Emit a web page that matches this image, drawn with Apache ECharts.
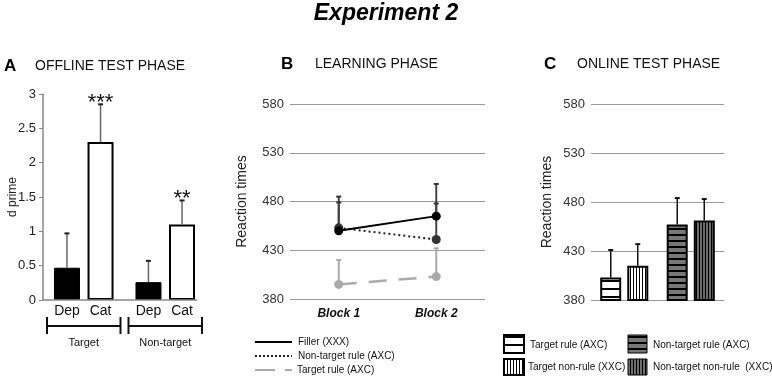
<!DOCTYPE html>
<html>
<head>
<meta charset="utf-8">
<style>
  html, body { margin: 0; padding: 0; background: #fff; }
  #main { width: 772px; height: 377px; }
</style>
<script src="https://cdn.jsdelivr.net/npm/echarts@6/dist/echarts.min.js"></script>
</head>
<body>
<div id="main"></div>
<script>
// 数据 A: offline test phase (d prime)
var offlineGroups = ['Target', 'Non-target'];
var depValues = [0.47, 0.26];
var depErrTop = [0.97, 0.57];
var catValues = [2.3, 1.1];
var catErrTop = [2.85, 1.45];
var catStars = ['***', '**'];

// 数据 B: learning phase (reaction times)
var blocks = ['Block 1', 'Block 2'];
var fillerRT = [450, 465];
var fillerErrTop = [485, 498];
var nonTargetRuleRT = [453, 441];
var nonTargetRuleErrTop = [479, 478];
var targetRuleRT = [395, 403];
var targetRuleErrTop = [420, 432];
var rtTicks = [380, 430, 480, 530, 580];

// 数据 C: online test phase
var onlineGroups = ['Target', 'Non-target'];
var ruleRT = [403, 457];
var ruleErrTop = [431, 484];
var nonRuleRT = [415, 461];
var nonRuleErrTop = [437, 483];

var FONT = '"Liberation Sans", Arial, sans-serif';

// 条纹填充
function stripe (bg, horiz, step, lw) {
  var c = document.createElement('canvas');
  c.width = horiz ? 4 : step;
  c.height = horiz ? step : 4;
  var ctx = c.getContext('2d');
  ctx.fillStyle = bg;
  ctx.fillRect(0, 0, c.width, c.height);
  ctx.fillStyle = '#000';
  if (horiz) ctx.fillRect(0, 0, c.width, lw);
  else ctx.fillRect(0, 0, lw, c.height);
  return { image: c, repeat: 'repeat' };
}
var patTargetRule = stripe('#fff', true, 8, 2);
var patTargetNonRule = stripe('#fff', false, 3, 1);
var patNonTargetRule = stripe('#777', true, 6, 2);
var patNonTargetNonRule = stripe('#6e6e6e', false, 3, 1);

// 误差线 renderItem
function errBar (offset, color, capColor, lw, capW, labels) {
  return function (params, api) {
    var c = api.value(0);
    var base = api.coord([c, api.value(1)]);
    var top = api.coord([c, api.value(2)]);
    var x = base[0] + offset;
    var children = [
      { type: 'line', shape: { x1: x, y1: base[1], x2: x, y2: top[1] }, style: { stroke: color, lineWidth: lw } },
      { type: 'line', shape: { x1: x - capW / 2, y1: top[1], x2: x + capW / 2, y2: top[1] }, style: { stroke: capColor, lineWidth: 2 } }
    ];
    if (labels && labels[params.dataIndex]) {
      children.push({
        type: 'text',
        style: { text: labels[params.dataIndex], x: x, y: top[1] + 10, align: 'center', verticalAlign: 'bottom', font: '22px ' + FONT, fill: '#111' }
      });
    }
    return { type: 'group', children: children };
  };
}

function zip3 (a, b) {
  return a.map(function (v, i) { return [i, v, b[i]]; });
}

const myChart = echarts.init(document.getElementById('main'));

const option = {
  animation: false,
  textStyle: { fontFamily: FONT },
  grid: [
    { left: 43, top: 94, width: 163, height: 206 },
    { left: 290, top: 104, width: 195, height: 195 },
    { left: 591, top: 104, width: 133, height: 196 }
  ],
  xAxis: [
    {
      gridIndex: 0, type: 'category', data: offlineGroups,
      axisLine: { show: false }, axisTick: { show: false },
      axisLabel: { margin: 37, fontSize: 11, color: '#111', fontFamily: FONT }
    },
    {
      gridIndex: 1, type: 'category', data: blocks,
      axisLine: { show: false }, axisTick: { show: false },
      axisLabel: { margin: 9, fontSize: 12, fontWeight: 'bold', fontStyle: 'italic', color: '#111', fontFamily: FONT }
    },
    {
      gridIndex: 2, type: 'category', data: onlineGroups,
      axisLine: { show: false }, axisTick: { show: false }, axisLabel: { show: false }
    }
  ],
  yAxis: [
    {
      gridIndex: 0, type: 'value', min: 0, max: 3, interval: 0.5,
      name: 'd prime', nameLocation: 'middle', nameGap: 24, nameMoveOverlap: false,
      nameTextStyle: { fontSize: 12, color: '#222', fontFamily: FONT },
      axisLine: { show: true, lineStyle: { color: '#888', width: 1.5 } },
      axisTick: { show: true, length: 4, lineStyle: { color: '#888' } },
      axisLabel: { fontSize: 13, color: '#222', margin: 7, fontFamily: FONT },
      splitLine: { show: false }
    },
    {
      gridIndex: 1, type: 'value', min: rtTicks[0], max: rtTicks[rtTicks.length - 1], interval: 50,
      name: 'Reaction times', nameLocation: 'middle', nameGap: 41,
      nameTextStyle: { fontSize: 14, color: '#222', fontFamily: FONT },
      axisLine: { show: false }, axisTick: { show: false },
      axisLabel: { fontSize: 13, color: '#333', margin: 6, fontFamily: FONT },
      splitLine: { lineStyle: { color: '#999', width: 1.2 } }
    },
    {
      gridIndex: 2, type: 'value', min: rtTicks[0], max: rtTicks[rtTicks.length - 1], interval: 50,
      name: 'Reaction times', nameLocation: 'middle', nameGap: 37,
      nameTextStyle: { fontSize: 14, color: '#222', fontFamily: FONT },
      axisLine: { show: false }, axisTick: { show: false },
      axisLabel: { fontSize: 13, color: '#333', margin: 6, fontFamily: FONT },
      splitLine: { lineStyle: { color: '#999', width: 1.2 } }
    }
  ],
  series: [
    // A
    {
      name: 'Dep', type: 'bar', xAxisIndex: 0, yAxisIndex: 0,
      barWidth: 26, barGap: '29%', data: depValues,
      itemStyle: { color: '#000', borderColor: '#000', borderWidth: 1 },
      label: { show: true, position: 'bottom', distance: 4, formatter: '{a}', fontSize: 14, color: '#111', fontFamily: FONT }
    },
    {
      name: 'Cat', type: 'bar', xAxisIndex: 0, yAxisIndex: 0,
      barWidth: 26, barGap: '29%', data: catValues,
      itemStyle: { color: '#fff', borderColor: '#000', borderWidth: 2 },
      label: { show: true, position: 'bottom', distance: 4, formatter: '{a}', fontSize: 14, color: '#111', fontFamily: FONT }
    },
    {
      type: 'custom', xAxisIndex: 0, yAxisIndex: 0, z: 3,
      renderItem: errBar(-16.8, '#666', '#222', 1.5, 5),
      data: zip3(depValues, depErrTop)
    },
    {
      type: 'custom', xAxisIndex: 0, yAxisIndex: 0, z: 3,
      renderItem: errBar(16.8, '#666', '#222', 1.5, 5, catStars),
      data: zip3(catValues, catErrTop)
    },
    {
      // 基线和括号
      type: 'custom', xAxisIndex: 0, yAxisIndex: 0, z: 3,
      renderItem: function (params, api) {
        var p = api.coord([api.value(0), 0]);
        var w = api.size([1, 0])[0];
        var l = p[0] - w / 2 + 4, r = p[0] + w / 2 - 4, y = p[1] + 26;
        var kids = [
          { type: 'line', shape: { x1: l, y1: y, x2: r, y2: y }, style: { stroke: '#111', lineWidth: 2 } },
          { type: 'line', shape: { x1: l, y1: y - 9, x2: l, y2: y + 8 }, style: { stroke: '#111', lineWidth: 2 } },
          { type: 'line', shape: { x1: r, y1: y - 9, x2: r, y2: y + 8 }, style: { stroke: '#111', lineWidth: 2 } }
        ];
        if (params.dataIndex === 0) {
          kids.push({ type: 'line', shape: { x1: p[0] - w / 2, y1: p[1], x2: p[0] + w * 1.5 - 9, y2: p[1] }, style: { stroke: '#888', lineWidth: 1.5 } });
        }
        return { type: 'group', children: kids };
      },
      data: [[0], [1]]
    },
    // B
    {
      name: 'Filler (XXX)', type: 'line', xAxisIndex: 1, yAxisIndex: 1, z: 5,
      data: fillerRT, symbol: 'circle', symbolSize: 9,
      itemStyle: { color: '#000' }, lineStyle: { color: '#000', width: 2 }
    },
    {
      name: 'Non-target rule (AXC)', type: 'line', xAxisIndex: 1, yAxisIndex: 1, z: 4,
      data: nonTargetRuleRT, symbol: 'circle', symbolSize: 9,
      itemStyle: { color: '#333' }, lineStyle: { color: '#222', width: 2, type: [2, 3] }
    },
    {
      name: 'Target rule (AXC)', type: 'line', xAxisIndex: 1, yAxisIndex: 1, z: 4,
      data: targetRuleRT, symbol: 'circle', symbolSize: 9,
      itemStyle: { color: '#aaa' }, lineStyle: { color: '#aaa', width: 2.5, type: [18, 12] }
    },
    {
      type: 'custom', xAxisIndex: 1, yAxisIndex: 1, z: 3,
      renderItem: errBar(0, '#444', '#333', 2, 5),
      data: zip3(fillerRT, fillerErrTop)
    },
    {
      type: 'custom', xAxisIndex: 1, yAxisIndex: 1, z: 3,
      renderItem: errBar(0, '#444', '#333', 2, 5),
      data: zip3(nonTargetRuleRT, nonTargetRuleErrTop)
    },
    {
      type: 'custom', xAxisIndex: 1, yAxisIndex: 1, z: 2,
      renderItem: errBar(0, '#aaa', '#aaa', 2, 5),
      data: zip3(targetRuleRT, targetRuleErrTop)
    },
    // C
    {
      name: 'Rule (AXC)', type: 'bar', xAxisIndex: 2, yAxisIndex: 2,
      barWidth: 21, barGap: '29%',
      data: ruleRT.map(function (v, i) {
        return { value: v, itemStyle: { color: i === 0 ? patTargetRule : patNonTargetRule } };
      }),
      itemStyle: { borderColor: '#000', borderWidth: 2 }
    },
    {
      name: 'Non-rule (XXC)', type: 'bar', xAxisIndex: 2, yAxisIndex: 2,
      barWidth: 21, barGap: '29%',
      data: nonRuleRT.map(function (v, i) {
        return { value: v, itemStyle: { color: i === 0 ? patTargetNonRule : patNonTargetNonRule } };
      }),
      itemStyle: { borderColor: '#000', borderWidth: 2 }
    },
    {
      type: 'custom', xAxisIndex: 2, yAxisIndex: 2, z: 1,
      renderItem: errBar(-13.5, '#111', '#111', 1.5, 5),
      data: zip3(ruleRT, ruleErrTop)
    },
    {
      type: 'custom', xAxisIndex: 2, yAxisIndex: 2, z: 1,
      renderItem: errBar(13.5, '#111', '#111', 1.5, 5),
      data: zip3(nonRuleRT, nonRuleErrTop)
    }
  ],
  graphic: [
    { type: 'text', left: 'center', top: 2, style: { text: 'Experiment 2', font: 'italic bold 23px ' + FONT, fill: '#000' } },
    { type: 'text', x: 4, y: 58, style: { text: 'A', font: 'bold 17px ' + FONT, fill: '#000' } },
    { type: 'text', x: 35, y: 59, style: { text: 'OFFLINE TEST PHASE', font: '14px ' + FONT, fill: '#111' } },
    { type: 'text', x: 281, y: 56, style: { text: 'B', font: 'bold 17px ' + FONT, fill: '#000' } },
    { type: 'text', x: 315, y: 57, style: { text: 'LEARNING PHASE', font: '14px ' + FONT, fill: '#111' } },
    { type: 'text', x: 544, y: 56, style: { text: 'C', font: 'bold 17px ' + FONT, fill: '#000' } },
    { type: 'text', x: 577, y: 57, style: { text: 'ONLINE TEST PHASE', font: '14px ' + FONT, fill: '#111' } },

    // legend B
    { type: 'line', shape: { x1: 255, y1: 342, x2: 292, y2: 342 }, style: { stroke: '#000', lineWidth: 2 } },
    { type: 'text', x: 298, y: 342, style: { text: 'Filler (XXX)', font: '10px ' + FONT, fill: '#111', verticalAlign: 'middle' } },
    { type: 'line', shape: { x1: 255, y1: 356, x2: 292, y2: 356 }, style: { stroke: '#222', lineWidth: 2, lineDash: [2, 2] } },
    { type: 'text', x: 298, y: 356, style: { text: 'Non-target rule (AXC)', font: '10px ' + FONT, fill: '#111', verticalAlign: 'middle' } },
    { type: 'line', shape: { x1: 255, y1: 370, x2: 292, y2: 370 }, style: { stroke: '#aaa', lineWidth: 2, lineDash: [20, 10] } },
    { type: 'text', x: 297, y: 370, style: { text: 'Target rule (AXC)', font: '10px ' + FONT, fill: '#111', verticalAlign: 'middle' } },

    // legend C
    { type: 'rect', shape: { x: 504, y: 335, width: 20, height: 18 }, style: { fill: patTargetRule, stroke: '#000', lineWidth: 2 } },
    { type: 'text', x: 530, y: 345, style: { text: 'Target rule (AXC)', font: '10px ' + FONT, fill: '#111', verticalAlign: 'middle' } },
    { type: 'rect', shape: { x: 504, y: 359, width: 20, height: 16 }, style: { fill: patTargetNonRule, stroke: '#000', lineWidth: 2 } },
    { type: 'text', x: 528, y: 367, style: { text: 'Target non-rule (XXC)', font: '10px ' + FONT, fill: '#111', verticalAlign: 'middle' } },
    { type: 'rect', shape: { x: 628, y: 335, width: 19, height: 18 }, style: { fill: patNonTargetRule, stroke: '#000', lineWidth: 1 } },
    { type: 'text', x: 653, y: 345, style: { text: 'Non-target rule (AXC)', font: '10px ' + FONT, fill: '#111', verticalAlign: 'middle' } },
    { type: 'rect', shape: { x: 628, y: 359, width: 19, height: 16 }, style: { fill: patNonTargetNonRule, stroke: '#000', lineWidth: 1 } },
    { type: 'text', x: 653, y: 367, style: { text: 'Non-target non-rule  (XXC)', font: '10px ' + FONT, fill: '#111', verticalAlign: 'middle' } }
  ]
};

myChart.setOption(option);

window.addEventListener('resize', function () {
  myChart.resize();
});
</script>
</body>
</html>
